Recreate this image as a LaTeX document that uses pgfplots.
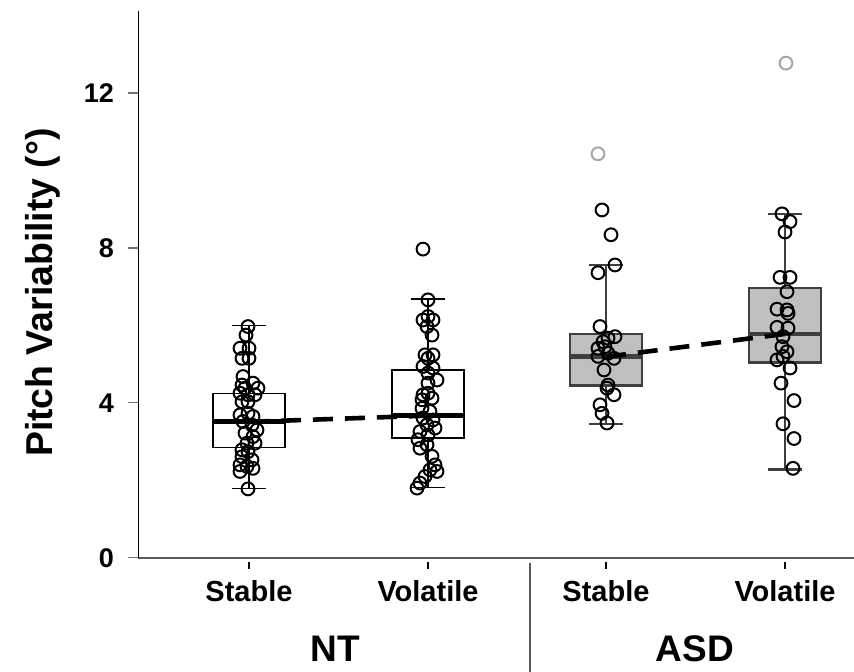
\documentclass[border=0pt]{standalone}
\usepackage{fontspec}
\setmainfont{Liberation Sans}
\usepackage{pgfplots}
\pgfplotsset{compat=1.18}
\definecolor{boxgray}{HTML}{BFBFBF}
\definecolor{edgegray}{HTML}{3F3F3F}
\definecolor{outgray}{HTML}{A6A6A6}
\begin{document}
\begin{tikzpicture}
\begin{axis}[
  scale only axis, width=358pt, height=273.5pt,
  xmin=138, xmax=854, ymin=0, ymax=14.12,
  axis x line=bottom, axis y line=left,
  axis line style={-},
  x axis line style={draw=black!65, line width=0.9pt},
  y axis line style={draw=black, line width=0.5pt},
  clip=false,
  xtick={249,428,606,785},
  xticklabels={Stable,Volatile,Stable,Volatile},
  ytick={0,4,8,12},
  tick align=outside,
  major tick length=5pt,
  ytick style={draw=black!55, line width=0.6pt},
  xtick style={draw=black, line width=0.6pt, /pgfplots/major tick length=3.5pt, yshift=-2.2pt},
  /pgf/number format/assume math mode=true,
  yticklabel style={font=\fontsize{13.5}{15}\selectfont\bfseries, xshift=-3.5pt},
  xticklabel style={font=\fontsize{14.5}{16}\selectfont\bfseries, anchor=north, yshift=-3pt},
  ylabel={Pitch Variability (\textdegree)},
  ylabel style={font=\fontsize{18.7}{20}\selectfont\bfseries, at={(axis description cs:-0.1327,0.485)}, anchor=center, rotate=0},
  mk/.style={only marks, mark=o, mark size=3.2pt, mark options={line width=1pt, draw=#1}},
]
% ---------- NT stable ----------
\addplot[black, line width=0.6pt] coordinates {(249,4.25) (249,6.0)};
\addplot[black, line width=0.6pt] coordinates {(232,6.0) (266,6.0)};
\addplot[black, line width=0.6pt] coordinates {(249,2.85) (249,1.78)};
\addplot[black, line width=0.6pt] coordinates {(232,1.78) (266,1.78)};
\addplot[draw=black, fill=white, line width=0.7pt] coordinates {(213,2.85) (285,2.85) (285,4.25) (213,4.25)} -- cycle;
\addplot[black, line width=2.4pt] coordinates {(213,3.51) (285,3.51)};
% ---------- NT volatile ----------
\addplot[black, line width=0.6pt] coordinates {(428,4.85) (428,6.68)};
\addplot[black, line width=0.6pt] coordinates {(411,6.68) (445,6.68)};
\addplot[black, line width=0.6pt] coordinates {(428,3.09) (428,1.82)};
\addplot[black, line width=0.6pt] coordinates {(411,1.82) (445,1.82)};
\addplot[draw=black, fill=white, line width=0.7pt] coordinates {(392,3.09) (464,3.09) (464,4.85) (392,4.85)} -- cycle;
\addplot[black, line width=2.4pt] coordinates {(392,3.67) (464,3.67)};
% ---------- ASD stable ----------
\addplot[edgegray, line width=1.1pt] coordinates {(606,5.77) (606,7.55)};
\addplot[edgegray, line width=1.1pt] coordinates {(589,7.55) (623,7.55)};
\addplot[edgegray, line width=1.1pt] coordinates {(606,4.45) (606,3.46)};
\addplot[edgegray, line width=1.1pt] coordinates {(589,3.46) (623,3.46)};
\addplot[draw=edgegray, fill=boxgray, line width=1.1pt] coordinates {(570,4.45) (642,4.45) (642,5.77) (570,5.77)} -- cycle;
\addplot[edgegray, line width=2.4pt] coordinates {(570,5.19) (642,5.19)};
% ---------- ASD volatile ----------
\addplot[edgegray, line width=1.1pt] coordinates {(785,6.96) (785,8.88)};
\addplot[edgegray, line width=1.1pt] coordinates {(768,8.88) (802,8.88)};
\addplot[edgegray, line width=1.1pt] coordinates {(785,5.04) (785,2.28)};
\addplot[edgegray, line width=1.1pt] coordinates {(768,2.28) (802,2.28)};
\addplot[draw=edgegray, fill=boxgray, line width=1.1pt] coordinates {(749,5.04) (821,5.04) (821,6.96) (749,6.96)} -- cycle;
\addplot[edgegray, line width=2.4pt] coordinates {(749,5.78) (821,5.78)};
% dashed lines
\addplot[black, line width=2.3pt, dash pattern=on 10pt off 6pt] coordinates {(249,3.51) (428,3.67)};
\addplot[black, line width=2.3pt, dash pattern=on 10pt off 6pt] coordinates {(606,5.19) (785,5.78)};
% points
\addplot[mk=black] coordinates {
(248,5.97) (246,5.75) (240,5.41) (249,5.41) (242,5.15) (249,5.15) (243,4.68) (242,4.46) (253,4.51) (245,4.38) (258,4.38) (240,4.25) (248,4.21) (255,4.21) (242,4.03) (248,4.03) (240,3.69) (248,3.73) (253,3.65) (243,3.52) (252,3.43) (257,3.30) (245,3.22) (253,3.13) (247,2.96) (255,2.96) (242,2.79) (248,2.74) (242,2.61) (252,2.53) (240,2.40) (247,2.36) (253,2.31) (240,2.23) (248,1.78)
};
\addplot[mk=black] coordinates {
(428,6.66) (428,6.23) (423,6.14) (433,6.14) (427,5.97) (432,5.75) (425,5.24) (433,5.24) (428,5.15) (423,4.94) (433,4.90) (428,4.77) (437,4.59) (428,4.51) (423,4.21) (428,4.25) (422,4.08) (432,4.12) (422,3.86) (430,3.78) (423,3.61) (433,3.56) (427,3.43) (435,3.35) (420,3.26) (428,3.17) (418,3.05) (427,2.92) (420,2.83) (432,2.62) (435,2.40) (430,2.27) (437,2.23) (425,2.10) (420,1.93) (417,1.80) (423,7.97)
};
\addplot[mk=black] coordinates {
(602,8.98) (611,8.34) (615,7.56) (598,7.36) (600,5.97) (615,5.71) (608,5.67) (603,5.58) (605,5.45) (598,5.41) (598,5.20) (608,5.28) (614,5.15) (604,4.85) (608,4.46) (607,4.38) (614,4.21) (600,3.95) (602,3.73) (607,3.48)
};
\addplot[mk=black] coordinates {
(782,8.88) (790,8.68) (785,8.41) (780,7.24) (790,7.24) (787,6.87) (777,6.42) (787,6.40) (788,6.31) (777,5.95) (788,5.93) (783,5.71) (782,5.45) (787,5.32) (777,5.11) (783,5.20) (790,4.90) (781,4.51) (794,4.06) (783,3.46) (794,3.08) (793,2.31)
};
% outliers
\addplot[mk=outgray] coordinates {(598,10.43) (786,12.77)};
% group separator and labels
\draw[black!65, line width=0.9pt] (axis cs:530,-0.13) -- (axis cs:530,-2.95);
\node[font=\fontsize{18.5}{20}\selectfont\bfseries, anchor=base] at (axis cs:335,-2.676) {NT};
\node[font=\fontsize{18.5}{20}\selectfont\bfseries, anchor=base] at (axis cs:695,-2.676) {ASD};
\coordinate (bbsw) at (axis cs:0,-2.942);
\coordinate (bbne) at (axis cs:854,14.40);
\end{axis}
\pgfresetboundingbox
\useasboundingbox (bbsw) rectangle (bbne);
\end{tikzpicture}
\end{document}
